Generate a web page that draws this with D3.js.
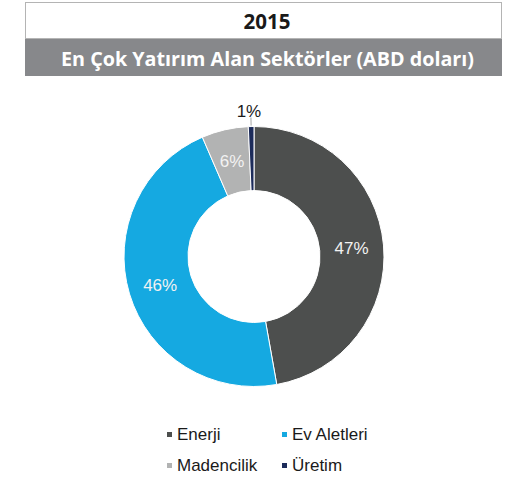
<!DOCTYPE html>
<html>
<head>
<meta charset="utf-8">
<script src="https://cdn.jsdelivr.net/npm/d3@7"></script>
<style>
  body { margin: 0; background: #fff; }
  svg { display: block; }
</style>
</head>
<body>
<div class="chart"></div>
<script>
// chart data
const year = "2015";
const title = "En Çok Yatırım Alan Sektörler (ABD doları)";
const sectors = ["Enerji", "Ev Aletleri", "Madencilik", "Üretim"];
const shares = [47.2, 46.3, 5.8, 0.7];
const shareLabels = ["47%", "46%", "6%", "1%"];
const colors = ["#4d4f4e", "#15a9e1", "#b2b3b3", "#1c2b5a"];

const WIDTH = 510,
    HEIGHT = 477;

let svg = d3.select(".chart")
    .append("svg")
    .attr("width", WIDTH)
    .attr("height", HEIGHT);

//Header boxes
svg.append("rect")
    .attr("x", 25.5).attr("y", 2.5)
    .attr("width", 476).attr("height", 36)
    .style("fill", "#fff")
    .style("stroke", "#b4b4b4");

svg.append("rect")
    .attr("x", 25).attr("y", 39)
    .attr("width", 477).attr("height", 37)
    .style("fill", "#87888b");

svg.append("text")
    .attr("x", 267).attr("y", 28.5)
    .attr("text-anchor", "middle")
    .attr("font-family", "Open Sans")
    .attr("font-weight", "bold")
    .attr("font-size", "20.5px")
    .style("fill", "#1a1a1a")
    .text(year);

svg.append("text")
    .attr("x", 267.5).attr("y", 66)
    .attr("text-anchor", "middle")
    .attr("font-family", "Open Sans")
    .attr("font-weight", "bold")
    .attr("font-size", "19px")
    .attr("textLength", 413)
    .attr("lengthAdjust", "spacingAndGlyphs")
    .style("fill", "#fff")
    .text(title);

//Donut
const cx = 254, cy = 256.5, outerR = 130, innerR = 66;

const data = sectors.map((s, i) => ({ sector: s, value: shares[i], label: shareLabels[i], color: colors[i] }));

const pie = d3.pie().sort(null).value(d => d.value);
const arc = d3.arc().innerRadius(innerR).outerRadius(outerR);
const labelArc = d3.arc().innerRadius(98).outerRadius(98);
const arcs = pie(data);

let g = svg.append("g").attr("transform", `translate(${cx}, ${cy})`);

g.selectAll(".slice")
    .data(arcs)
    .enter()
    .append("path")
    .attr("class", "slice")
    .attr("d", arc)
    .style("fill", d => d.data.color)
    .style("stroke", "#fff")
    .style("stroke-width", 1);

//Inside labels (all but the tiny slice)
g.selectAll(".lbl")
    .data(arcs.filter(d => d.data.value > 2))
    .enter()
    .append("text")
    .attr("class", "lbl")
    .attr("transform", d => `translate(${labelArc.centroid(d)})`)
    .attr("text-anchor", "middle")
    .attr("dy", "0.35em")
    .attr("font-family", "Liberation Sans")
    .attr("font-size", "17px")
    .style("fill", "#f2f2f2")
    .text(d => d.data.label);

//Small slice label outside with leader line
const small = arcs.filter(d => d.data.value <= 2);
const mid = d => (d.startAngle + d.endAngle) / 2;
g.selectAll(".leader")
    .data(small)
    .enter()
    .append("line")
    .attr("x1", d => Math.sin(mid(d)) * (outerR + 1))
    .attr("y1", d => -Math.cos(mid(d)) * (outerR + 1))
    .attr("x2", d => Math.sin(mid(d)) * (outerR + 9))
    .attr("y2", d => -Math.cos(mid(d)) * (outerR + 9))
    .style("stroke", "#a6a6a6")
    .style("stroke-width", 1);

g.selectAll(".outlbl")
    .data(small)
    .enter()
    .append("text")
    .attr("x", d => Math.sin(mid(d)) * (outerR + 9) - 2)
    .attr("y", d => -Math.cos(mid(d)) * (outerR + 10))
    .attr("text-anchor", "middle")
    .attr("font-family", "Liberation Sans")
    .attr("font-size", "17px")
    .style("fill", "#1a1a1a")
    .text(d => d.data.label);

//Legend
let legend = svg.append("g")
    .selectAll()
    .data(data)
    .enter()
    .append("g")
    .attr("transform", (d, i) => `translate(${167 + (i % 2) * 115}, ${440 + Math.floor(i / 2) * 31})`);

legend.append("rect")
    .attr("x", 0).attr("y", -8)
    .attr("width", 5).attr("height", 5)
    .style("fill", d => d.color);

legend.append("text")
    .attr("x", 10).attr("y", 0)
    .attr("font-family", "Liberation Sans")
    .attr("font-size", "17px")
    .style("fill", "#1a1a1a")
    .text(d => d.sector);
</script>
</body>
</html>
